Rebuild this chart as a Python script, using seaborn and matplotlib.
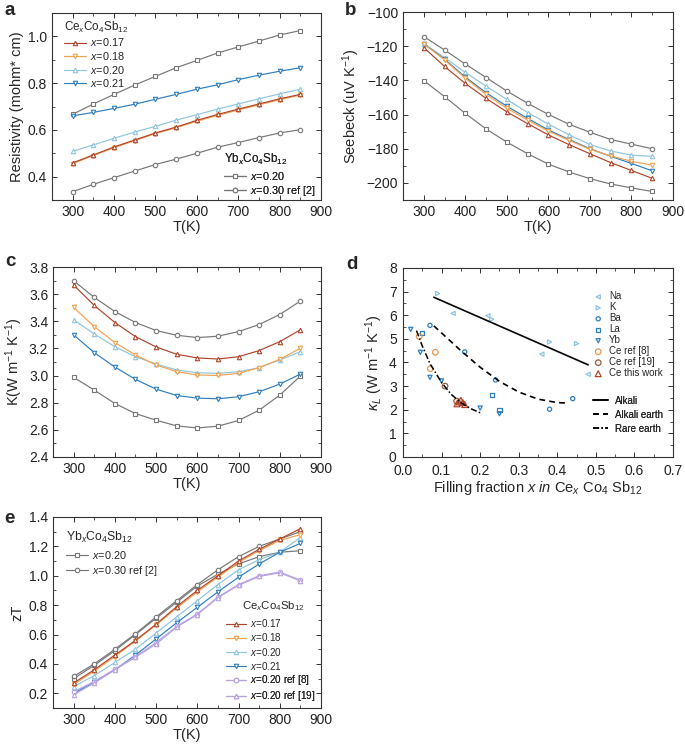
import numpy as np
import pandas as pd
import matplotlib
matplotlib.use("Agg")
import matplotlib.pyplot as plt
from matplotlib.ticker import AutoMinorLocator, MultipleLocator
import seaborn as sns

# temperatures (K)
T = [300, 350, 400, 450, 500, 550, 600, 650, 700, 750, 800, 850]

# a: resistivity (mohm cm)
rho_ce017 = [0.459, 0.493, 0.527, 0.557, 0.587, 0.612, 0.641, 0.666, 0.689, 0.711, 0.733, 0.752]
rho_ce018 = [0.456, 0.490, 0.524, 0.554, 0.584, 0.609, 0.637, 0.662, 0.685, 0.707, 0.729, 0.749]
rho_ce020 = [0.508, 0.536, 0.564, 0.591, 0.615, 0.642, 0.665, 0.689, 0.711, 0.733, 0.754, 0.774]
rho_ce021 = [0.660, 0.675, 0.692, 0.710, 0.731, 0.752, 0.774, 0.793, 0.815, 0.834, 0.851, 0.866]
rho_yb020 = [0.667, 0.711, 0.752, 0.792, 0.829, 0.866, 0.897, 0.929, 0.955, 0.980, 1.006, 1.025]
rho_yb030 = [0.336, 0.367, 0.396, 0.424, 0.452, 0.475, 0.500, 0.526, 0.546, 0.567, 0.587, 0.601]

# b: Seebeck (uV/K)
S_ce017 = [-120.8, -131.8, -141.8, -150.5, -158.4, -165.3, -171.9, -177.6, -182.9, -188.1, -192.7, -197.3]
S_ce018 = [-118.5, -128.0, -138.7, -148.2, -156.3, -163.2, -169.7, -175.1, -180.3, -184.2, -187.3, -189.6]
S_ce020 = [-118.5, -126.6, -135.3, -143.4, -151.1, -158.8, -165.5, -171.9, -177.5, -181.3, -183.8, -184.4]
S_ce021 = [-118.5, -127.6, -138.0, -147.2, -155.1, -162.2, -169.0, -174.6, -180.0, -184.4, -188.6, -192.9]
S_yb020 = [-140.1, -149.5, -159.3, -168.4, -176.1, -182.9, -189.0, -193.6, -197.5, -200.6, -202.9, -205.0]
S_yb030 = [-114.3, -122.2, -130.4, -138.3, -146.2, -153.4, -159.9, -165.7, -170.3, -174.6, -177.3, -180.0]

# c: thermal conductivity (W/m/K)
k_ce017 = [3.667, 3.517, 3.391, 3.287, 3.211, 3.157, 3.130, 3.122, 3.139, 3.184, 3.250, 3.337]
k_ce018 = [3.502, 3.361, 3.243, 3.152, 3.078, 3.029, 3.004, 3.001, 3.016, 3.058, 3.120, 3.201]
k_ce020 = [3.411, 3.307, 3.213, 3.139, 3.085, 3.041, 3.021, 3.016, 3.028, 3.058, 3.115, 3.176]
k_ce021 = [3.300, 3.169, 3.063, 2.972, 2.900, 2.853, 2.834, 2.829, 2.844, 2.881, 2.937, 3.011]
k_yb020 = [2.987, 2.893, 2.794, 2.720, 2.671, 2.629, 2.614, 2.627, 2.669, 2.745, 2.856, 2.996]
k_yb030 = [3.699, 3.576, 3.472, 3.391, 3.332, 3.297, 3.280, 3.290, 3.324, 3.376, 3.450, 3.549]

# d: lattice thermal conductivity vs filling fraction
na_x, na_y = [0.13, 0.22, 0.36, 0.48], [6.08, 5.98, 4.35, 3.50]
k_x, k_y = [0.09, 0.23, 0.38, 0.45], [6.92, 5.83, 4.87, 4.80]
ba_x, ba_y = [0.07, 0.16, 0.24, 0.38, 0.44], [5.57, 4.45, 3.26, 2.02, 2.47]
la_x, la_y = [0.05, 0.23, 0.25], [5.25, 2.63, 2.00]
yb_x, yb_y = [0.02, 0.045, 0.07, 0.10, 0.20, 0.25], [5.40, 4.43, 3.37, 3.22, 2.07, 1.83]
ce8_x, ce8_y = [0.042, 0.084, 0.071], [5.10, 4.43, 3.74]
ce19_x, ce19_y = [0.109, 0.139], [3.00, 2.36]
cew_x, cew_y = [0.14, 0.145, 0.15, 0.155, 0.16], [2.25, 2.33, 2.40, 2.30, 2.22]
alkali_x, alkali_y = [0.08, 0.48], [6.76, 3.90]
alkearth_x = [0.08, 0.10, 0.15, 0.20, 0.25, 0.30, 0.35, 0.40, 0.43]
alkearth_y = [5.55, 5.25, 4.50, 3.80, 3.20, 2.75, 2.45, 2.30, 2.28]
rare_x = [0.035, 0.05, 0.07, 0.10, 0.125, 0.15, 0.175, 0.20]
rare_y = [5.35, 4.70, 3.95, 3.15, 2.65, 2.30, 2.05, 1.87]

# e: zT
zt_ce017 = [0.27, 0.36, 0.46, 0.56, 0.67, 0.79, 0.90, 1.00, 1.10, 1.18, 1.25, 1.32]
zt_ce018 = [0.26, 0.35, 0.45, 0.555, 0.665, 0.78, 0.89, 0.99, 1.09, 1.17, 1.24, 1.28]
zt_ce020 = [0.245, 0.32, 0.41, 0.50, 0.61, 0.72, 0.83, 0.94, 1.04, 1.11, 1.16, 1.26]
zt_ce021 = [0.20, 0.275, 0.36, 0.46, 0.57, 0.68, 0.785, 0.89, 0.99, 1.08, 1.16, 1.22]
zt_yb020 = [0.30, 0.39, 0.49, 0.60, 0.71, 0.82, 0.93, 1.01, 1.08, 1.13, 1.16, 1.17]
zt_yb030 = [0.315, 0.40, 0.50, 0.605, 0.72, 0.83, 0.94, 1.04, 1.13, 1.20, 1.25, 1.30]
zt_ref8 = [0.21, 0.28, 0.365, 0.45, 0.545, 0.655, 0.74, 0.855, 0.94, 1.00, 1.025, 0.97]
zt_ref19 = [0.19, 0.27, 0.36, 0.445, 0.535, 0.65, 0.735, 0.85, 0.935, 0.995, 1.02, 0.965]

C_RED = '#b0452b'
C_ORANGE = '#f3a24f'
C_LBLUE = '#8fc4de'
C_BLUE = '#2f7dbd'
C_GRAY = '#777777'
C_PURPLE = '#b9a2e2'
C_BROWN = '#9c5a3c'
C_CEORANGE = '#e8964c'

sns.set_style('ticks')
plt.rcParams['font.family'] = ['Liberation Sans', 'DejaVu Sans']
plt.rcParams['mathtext.fontset'] = 'custom'
plt.rcParams['mathtext.rm'] = 'Liberation Sans'
plt.rcParams['mathtext.it'] = 'Liberation Sans:italic'
plt.rcParams['axes.edgecolor'] = '#333333'
plt.rcParams['axes.linewidth'] = 0.8
plt.rcParams['xtick.color'] = '#333333'
plt.rcParams['ytick.color'] = '#333333'
plt.rcParams['xtick.labelcolor'] = '#222222'
plt.rcParams['ytick.labelcolor'] = '#222222'

CE_LAB = 'Ce$_x$Co$_4$Sb$_{12}$'
YB_LAB = 'Yb$_x$Co$_4$Sb$_{12}$'

fig = plt.figure(figsize=(6.85, 7.45), dpi=100)
ax_a = fig.add_axes([0.0759, 0.7315, 0.3927, 0.2510])
ax_b = fig.add_axes([0.5883, 0.7315, 0.3942, 0.2523])
ax_c = fig.add_axes([0.0774, 0.3866, 0.3912, 0.2550])
ax_d = fig.add_axes([0.5883, 0.3866, 0.3942, 0.2537])
ax_e = fig.add_axes([0.0774, 0.0497, 0.3912, 0.2564])


def draw_series(ax, y, color, marker, label, ms=3.2):
    sns.lineplot(x=T, y=y, ax=ax, color=color, marker=marker, markersize=ms,
                 markerfacecolor='white', markeredgecolor=color, markeredgewidth=0.8,
                 linewidth=0.85, label=label, legend=False)


def style_axis(ax, xlim, ylim, xmaj, ymaj):
    ax.set_xlim(*xlim)
    ax.set_ylim(*ylim)
    ax.xaxis.set_major_locator(MultipleLocator(xmaj))
    ax.yaxis.set_major_locator(MultipleLocator(ymaj))
    ax.xaxis.set_minor_locator(AutoMinorLocator(2))
    ax.yaxis.set_minor_locator(AutoMinorLocator(2))
    ax.tick_params(which='both', direction='in', top=True, right=True, labelsize=10)
    ax.tick_params(which='major', length=3.5, width=0.7)
    ax.tick_params(which='minor', length=2, width=0.6)
    for s in ax.spines.values():
        s.set_visible(True)


def ce_yb_series(ax, ce017, ce018, ce020, ce021, yb020, yb030):
    lines = {}
    draw_series(ax, yb020, C_GRAY, 's', '$x$=0.20')
    draw_series(ax, yb030, C_GRAY, 'o', '$x$=0.30 ref [2]')
    draw_series(ax, ce020, C_LBLUE, '^', '$x$=0.20')
    draw_series(ax, ce021, C_BLUE, 'v', '$x$=0.21')
    draw_series(ax, ce018, C_ORANGE, 'v', '$x$=0.18')
    draw_series(ax, ce017, C_RED, '^', '$x$=0.17')
    for ln in ax.get_lines():
        lines[(ln.get_color(), ln.get_marker())] = ln
    return lines


def make_legend(ax, handles, labels, anchor, fs=7.8, title=None, tfs=8.4, spacing=0.15,
                hl=2.0, pad=0.4):
    leg = ax.legend(handles, labels, title=title, loc='upper left', bbox_to_anchor=anchor,
                    frameon=False, fontsize=fs, title_fontsize=tfs, handlelength=hl,
                    handletextpad=pad, labelspacing=spacing, borderpad=0, borderaxespad=0)
    leg._legend_box.align = 'left'
    ax.add_artist(leg)
    return leg


# ---- a ----
la = ce_yb_series(ax_a, rho_ce017, rho_ce018, rho_ce020, rho_ce021, rho_yb020, rho_yb030)
style_axis(ax_a, (250, 900), (0.3, 1.1), 100, 0.2)
ax_a.set_xlabel('T(K)', fontsize=10.5, labelpad=1)
ax_a.set_ylabel('Resistivity (mohm* cm)', fontsize=10.5, labelpad=3)
make_legend(ax_a, [la[(C_RED, '^')], la[(C_ORANGE, 'v')], la[(C_LBLUE, '^')], la[(C_BLUE, 'v')]],
            ['$x$=0.17', '$x$=0.18', '$x$=0.20', '$x$=0.21'], (0.045, 0.965), title=CE_LAB)
make_legend(ax_a, [la[(C_GRAY, 's')], la[(C_GRAY, 'o')]], ['$x$=0.20', '$x$=0.30 ref [2]'],
            (0.64, 0.255), title=YB_LAB, spacing=0.22)

# ---- b ----
ce_yb_series(ax_b, S_ce017, S_ce018, S_ce020, S_ce021, S_yb020, S_yb030)
style_axis(ax_b, (250, 900), (-210, -100), 100, 20)
ax_b.set_xlabel('T(K)', fontsize=10.5, labelpad=1)
ax_b.set_ylabel('Seebeck (uV K$^{-1}$)', fontsize=10.5, labelpad=3)

# ---- c ----
ce_yb_series(ax_c, k_ce017, k_ce018, k_ce020, k_ce021, k_yb020, k_yb030)
style_axis(ax_c, (250, 900), (2.4, 3.8), 100, 0.2)
ax_c.set_xlabel('T(K)', fontsize=10.5, labelpad=1)
ax_c.set_ylabel('K(W m$^{-1}$ K$^{-1}$)', fontsize=10.5, labelpad=3)

# ---- d ----
def pts(ax, x, y, marker, color, label, s=9):
    sns.scatterplot(x=x, y=y, ax=ax, marker=marker, s=s, facecolor='none',
                    edgecolor=color, linewidth=0.9, label=label, legend=False)


pts(ax_d, na_x, na_y, '<', C_LBLUE, 'Na')
pts(ax_d, k_x, k_y, '>', C_LBLUE, 'K')
pts(ax_d, ba_x, ba_y, 'o', C_BLUE, 'Ba')
pts(ax_d, la_x, la_y, 's', C_BLUE, 'La')
pts(ax_d, yb_x, yb_y, 'v', C_BLUE, 'Yb')
pts(ax_d, ce8_x, ce8_y, 'o', C_CEORANGE, 'Ce ref [8]', s=16)
pts(ax_d, ce19_x, ce19_y, 'o', C_BROWN, 'Ce ref [19]', s=16)
pts(ax_d, cew_x, cew_y, '^', C_RED, 'Ce this work', s=18)
h_pts = ax_d.collections[:]
sns.lineplot(x=alkali_x, y=alkali_y, ax=ax_d, color='black', linewidth=1.2, label='Alkali', legend=False)
sns.lineplot(x=alkearth_x, y=alkearth_y, ax=ax_d, color='black', linewidth=1.2,
             linestyle=(0, (3.5, 2.5)), label='Alkali earth', legend=False)
sns.lineplot(x=rare_x, y=rare_y, ax=ax_d, color='black', linewidth=1.1,
             linestyle=(0, (4, 1.5, 1, 1.5)), label='Rare earth', legend=False)
style_axis(ax_d, (0.0, 0.7), (0, 8), 0.1, 1)
ax_d.tick_params(axis='x', pad=5)
ax_d.tick_params(axis='y', pad=4.5)
ax_d.set_xlabel('Filling fraction $x$ $in$ Ce$_x$ Co$_4$ Sb$_{12}$', fontsize=10.5, labelpad=1)
ax_d.set_ylabel('$\\kappa_L$ (W m$^{-1}$ K$^{-1}$)', fontsize=10.5, labelpad=3)
ax_d.xaxis.set_major_formatter(plt.FormatStrFormatter('%.1f'))
make_legend(ax_d, h_pts, [c.get_label() for c in h_pts], (0.705, 0.876), fs=7.0,
            spacing=0.1, hl=1.0, pad=0.6)
make_legend(ax_d, ax_d.get_lines()[:3], ['Alkali', 'Alkali earth', 'Rare earth'], (0.703, 0.325),
            fs=7.0, spacing=0.42, hl=1.6, pad=0.65)

# ---- e ----
le = ce_yb_series(ax_e, zt_ce017, zt_ce018, zt_ce020, zt_ce021, zt_yb020, zt_yb030)
draw_series(ax_e, zt_ref8, C_PURPLE, 'o', '$x$=0.20 ref [8]')
draw_series(ax_e, zt_ref19, C_PURPLE, '^', '$x$=0.20 ref [19]')
lines_e = ax_e.get_lines()
style_axis(ax_e, (250, 900), (0.1, 1.4), 100, 0.2)
ax_e.set_xlabel('T(K)', fontsize=10.5, labelpad=1)
ax_e.set_ylabel('zT', fontsize=10.5, labelpad=3)
make_legend(ax_e, [le[(C_GRAY, 's')], le[(C_GRAY, 'o')]], ['$x$=0.20', '$x$=0.30 ref [2]'],
            (0.05, 0.93), title=YB_LAB, tfs=8.8, spacing=0.3)
make_legend(ax_e, [le[(C_RED, '^')], le[(C_ORANGE, 'v')], le[(C_LBLUE, '^')], le[(C_BLUE, 'v')]],
            ['$x$=0.17', '$x$=0.18', '$x$=0.20', '$x$=0.21'], (0.645, 0.475), fs=7.1, spacing=0.22)
make_legend(ax_e, [lines_e[-2], lines_e[-1]], ['$x$=0.20 ref [8]', '$x$=0.20 ref [19]'],
            (0.645, 0.183), fs=7.1, spacing=0.22)
ax_e.text(0.705, 0.535, CE_LAB, transform=ax_e.transAxes, fontsize=8.2, va='center', ha='left')

# panel letters
for lab, (x, y) in zip('abcde', [(0.006, 0.997), (0.503, 0.997), (0.008, 0.661),
                                  (0.505, 0.657), (0.006, 0.316)]):
    fig.text(x, y, lab, fontsize=13.5, fontweight='bold', va='top')

fig.savefig('out.png', dpi=100)
